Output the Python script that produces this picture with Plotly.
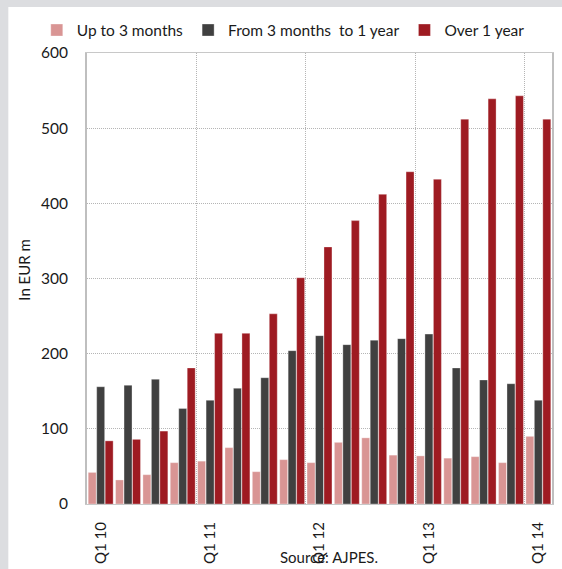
import plotly.graph_objects as go

# Quarterly stock by residual maturity, EUR million
quarters = ["Q1 10", "Q2 10", "Q3 10", "Q4 10",
            "Q1 11", "Q2 11", "Q3 11", "Q4 11",
            "Q1 12", "Q2 12", "Q3 12", "Q4 12",
            "Q1 13", "Q2 13", "Q3 13", "Q4 13",
            "Q1 14"]
up_to_3m = [42, 32, 39, 55, 57, 75, 43, 59, 55, 82, 88, 65, 64, 61, 63, 55, 90]
from_3m_to_1y = [156, 158, 166, 127, 138, 154, 168, 204, 224, 212, 218, 220, 226, 181, 165, 160, 138]
over_1y = [84, 86, 97, 181, 227, 227, 253, 301, 342, 377, 412, 442, 432, 512, 539, 543, 512]

series_names = ["Up to 3 months", "From 3 months  to 1 year", "Over 1 year"]
series_colors = ["#d99594", "#404040", "#9e1b22"]
y_ticks = [0, 100, 200, 300, 400, 500, 600]

FONT = "Lato"
x_pos = list(range(len(quarters)))
label_idx = [i for i, q in enumerate(quarters) if q.startswith("Q1")]
boundary_idx = [i - 0.5 for i in label_idx if i > 0]

fig = go.Figure()
for name, vals, color in zip(series_names, [up_to_3m, from_3m_to_1y, over_1y], series_colors):
    fig.add_trace(go.Bar(
        x=x_pos, y=vals, name=name,
        marker=dict(color=color, line=dict(color="rgba(255,255,255,0.45)", width=0.7)),
    ))

fig.update_layout(
    width=562, height=569,
    barmode="group", bargap=0.07, bargroupgap=0.06,
    paper_bgcolor="white", plot_bgcolor="white",
    margin=dict(l=87, r=10, t=53, b=65, autoexpand=False),
    font=dict(family=FONT, size=15, color="#1a1a1a"),
    showlegend=True,
    legend=dict(
        orientation="h", x=-0.108, y=1.05, xanchor="left", yanchor="middle",
        font=dict(family=FONT, size=15.5, color="#1a1a1a"),
        itemwidth=30, tracegroupgap=0, bgcolor="rgba(0,0,0,0)",
    ),
    xaxis=dict(
        range=[-0.5, len(quarters) - 0.5],
        tickmode="array", tickvals=label_idx, ticktext=[quarters[i] for i in label_idx],
        tickangle=-90, ticks="outside", ticklen=11, tickcolor="rgba(0,0,0,0)",
        tickfont=dict(family=FONT, size=15),
        showgrid=False, zeroline=False,
        showline=True, mirror=True, linecolor="#c8c8c8", linewidth=1,
        minor=dict(tickmode="array", tickvals=boundary_idx, showgrid=True,
                   gridcolor="#b5b5b5", griddash="1px,1px", gridwidth=1, ticks=""),
    ),
    yaxis=dict(
        range=[0, 600], tickmode="array", tickvals=y_ticks,
        ticks="outside", ticklen=14, tickcolor="rgba(0,0,0,0)",
        tickfont=dict(family=FONT, size=15.5),
        showgrid=True, gridcolor="#b5b5b5", griddash="1px,1px", gridwidth=1,
        zeroline=False,
        showline=True, mirror=True, linecolor="#bfbfbf", linewidth=2,
    ),
    shapes=[
        # light grey frame along the top and left edges of the page
        dict(type="rect", xref="paper", yref="paper", x0=-0.3, x1=1.1, y0=1.102, y1=1.2,
             fillcolor="#dcdde0", line=dict(width=0), layer="above"),
        dict(type="rect", xref="paper", yref="paper", x0=-0.3, x1=-0.1692, y0=-0.2, y1=1.2,
             fillcolor="#dcdde0", line=dict(width=0), layer="above"),
    ],
    annotations=[
        dict(text="In EUR m", textangle=-90, xref="paper", yref="paper",
             x=-0.135, y=0.52, xanchor="center", yanchor="middle", showarrow=False,
             font=dict(family=FONT, size=15)),
        dict(text="Source: AJPES.", xref="paper", yref="paper",
             x=0.52, y=-0.1175, xanchor="center", yanchor="middle", showarrow=False,
             font=dict(family=FONT, size=15)),
    ],
)

fig.write_html("out.html")
